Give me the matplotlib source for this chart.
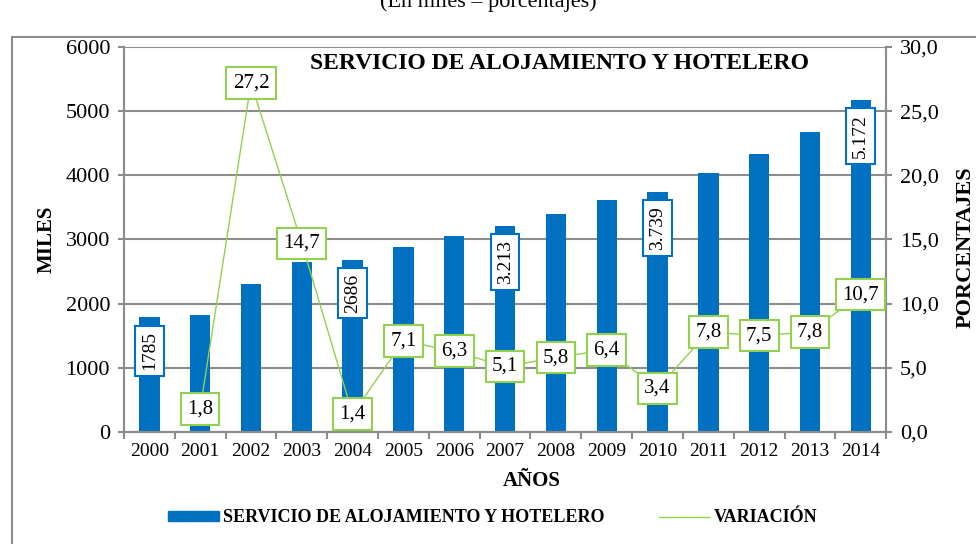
import matplotlib.pyplot as plt
import matplotlib.patches as mpatches
from matplotlib.lines import Line2D
from matplotlib.ticker import FuncFormatter, FixedLocator

plt.rcParams['font.family'] = ['Liberation Serif', 'DejaVu Serif']

# data
years = ['2000', '2001', '2002', '2003', '2004', '2005', '2006', '2007',
         '2008', '2009', '2010', '2011', '2012', '2013', '2014']
miles = [1785, 1817, 2311, 2651, 2686, 2877, 3058, 3213,
         3399, 3617, 3739, 4031, 4333, 4671, 5172]
variacion = [None, 1.8, 27.2, 14.7, 1.4, 7.1, 6.3, 5.1,
             5.8, 6.4, 3.4, 7.8, 7.5, 7.8, 10.7]
# bars that carry a value label, with the text shown
bar_labels = {'2000': '1785', '2004': '2686', '2007': '3.213',
              '2010': '3.739', '2014': '5.172'}

BLUE = '#0070c0'
GREEN = '#92d050'
GRID = '#8c8c8c'

fig = plt.figure(figsize=(9.76, 5.44), dpi=100)
ax = fig.add_axes([0.127, 0.2059, 0.781, 0.7077])

# outer chart frame
frame = mpatches.Rectangle((12 / 976, -0.02), 1.0, 1 - 37 / 544 + 0.02,
                           transform=fig.transFigure, fill=False,
                           edgecolor='#8c8c8c', linewidth=1.5, zorder=0)
fig.patches.append(frame)

fig.text(0.5, 1 - 2 / 544, '(En miles – porcentajes)', ha='center',
         va='center', fontsize=16)

x = list(range(len(years)))
ax.bar(x, miles, width=0.4, color=BLUE, zorder=2)
ax.set_xlim(-0.5, len(years) - 0.5)
ax.set_ylim(0, 6000)
ax.set_yticks(range(0, 6001, 1000))
ax.grid(axis='y', color=GRID, linewidth=1.5, zorder=0)
ax.set_axisbelow(True)

ax.set_xticks(x)
ax.set_xticklabels(years, fontsize=14)
ax.xaxis.set_minor_locator(FixedLocator([i + 0.5 for i in range(-1, len(years))]))
ax.tick_params(axis='x', which='major', length=0, pad=8)
ax.tick_params(axis='x', which='minor', length=5, color=GRID, width=1.5)
ax.tick_params(axis='y', labelsize=16, length=4, color=GRID, width=1.5, pad=6)
for s in ['left', 'bottom', 'right']:
    ax.spines[s].set_color(GRID)
    ax.spines[s].set_linewidth(1.5)
ax.spines['top'].set_visible(False)

ax.set_ylabel('MILES', fontsize=15, fontweight='bold')
ax.yaxis.set_label_coords(-0.088, 0.5)
ax.set_xlabel('AÑOS', fontsize=15, fontweight='bold')
ax.xaxis.set_label_coords(0.535, -0.101)

for i, yr in enumerate(years):
    if yr in bar_labels:
        ax.annotate(bar_labels[yr], (i, miles[i]), xytext=(0, -10),
                    textcoords='offset points', rotation=90, ha='center',
                    va='top', fontsize=14, zorder=5,
                    bbox=dict(boxstyle='square,pad=0.3', fc='white',
                              ec=BLUE, lw=1.5))

ax.text(0.572, 0.956, 'SERVICIO DE ALOJAMIENTO Y HOTELERO',
        transform=ax.transAxes, ha='center', va='center',
        fontsize=17, fontweight='bold')

ax2 = ax.twinx()
xs = [i for i, v in enumerate(variacion) if v is not None]
vs = [v for v in variacion if v is not None]
ax2.plot(xs, vs, color=GREEN, linewidth=1, zorder=3)
ax2.set_ylim(0, 30)
ax2.set_yticks([0, 5, 10, 15, 20, 25, 30])
ax2.yaxis.set_major_formatter(FuncFormatter(lambda v, p: f'{v:.1f}'.replace('.', ',')))
ax2.tick_params(axis='y', labelsize=16, length=4, color=GRID, width=1.5, pad=6)
for s in ['left', 'bottom', 'right']:
    ax2.spines[s].set_color(GRID)
    ax2.spines[s].set_linewidth(1.5)
ax2.spines['top'].set_visible(False)
ax2.set_ylabel('PORCENTAJES', fontsize=16, fontweight='bold')
ax2.yaxis.set_label_coords(1.091, 0.48)

for xi, v in zip(xs, vs):
    ax2.text(xi, v, f'{v:.1f}'.replace('.', ','), ha='center', va='center',
             fontsize=15, zorder=5,
             bbox=dict(boxstyle='square,pad=0.3', fc='white', ec=GREEN, lw=1.5))

handles = [mpatches.Patch(color=BLUE, label='SERVICIO DE ALOJAMIENTO Y HOTELERO'),
           Line2D([], [], color=GREEN, lw=1, label='VARIACIÓN')]
fig.legend(handles=handles, loc='center', bbox_to_anchor=(0.505, 0.048),
           ncol=2, frameon=False, handlelength=2.8, handleheight=0.5,
           columnspacing=3.0, handletextpad=0.25,
           prop={'size': 13, 'weight': 'bold'})

fig.savefig('out.png', dpi=100)
